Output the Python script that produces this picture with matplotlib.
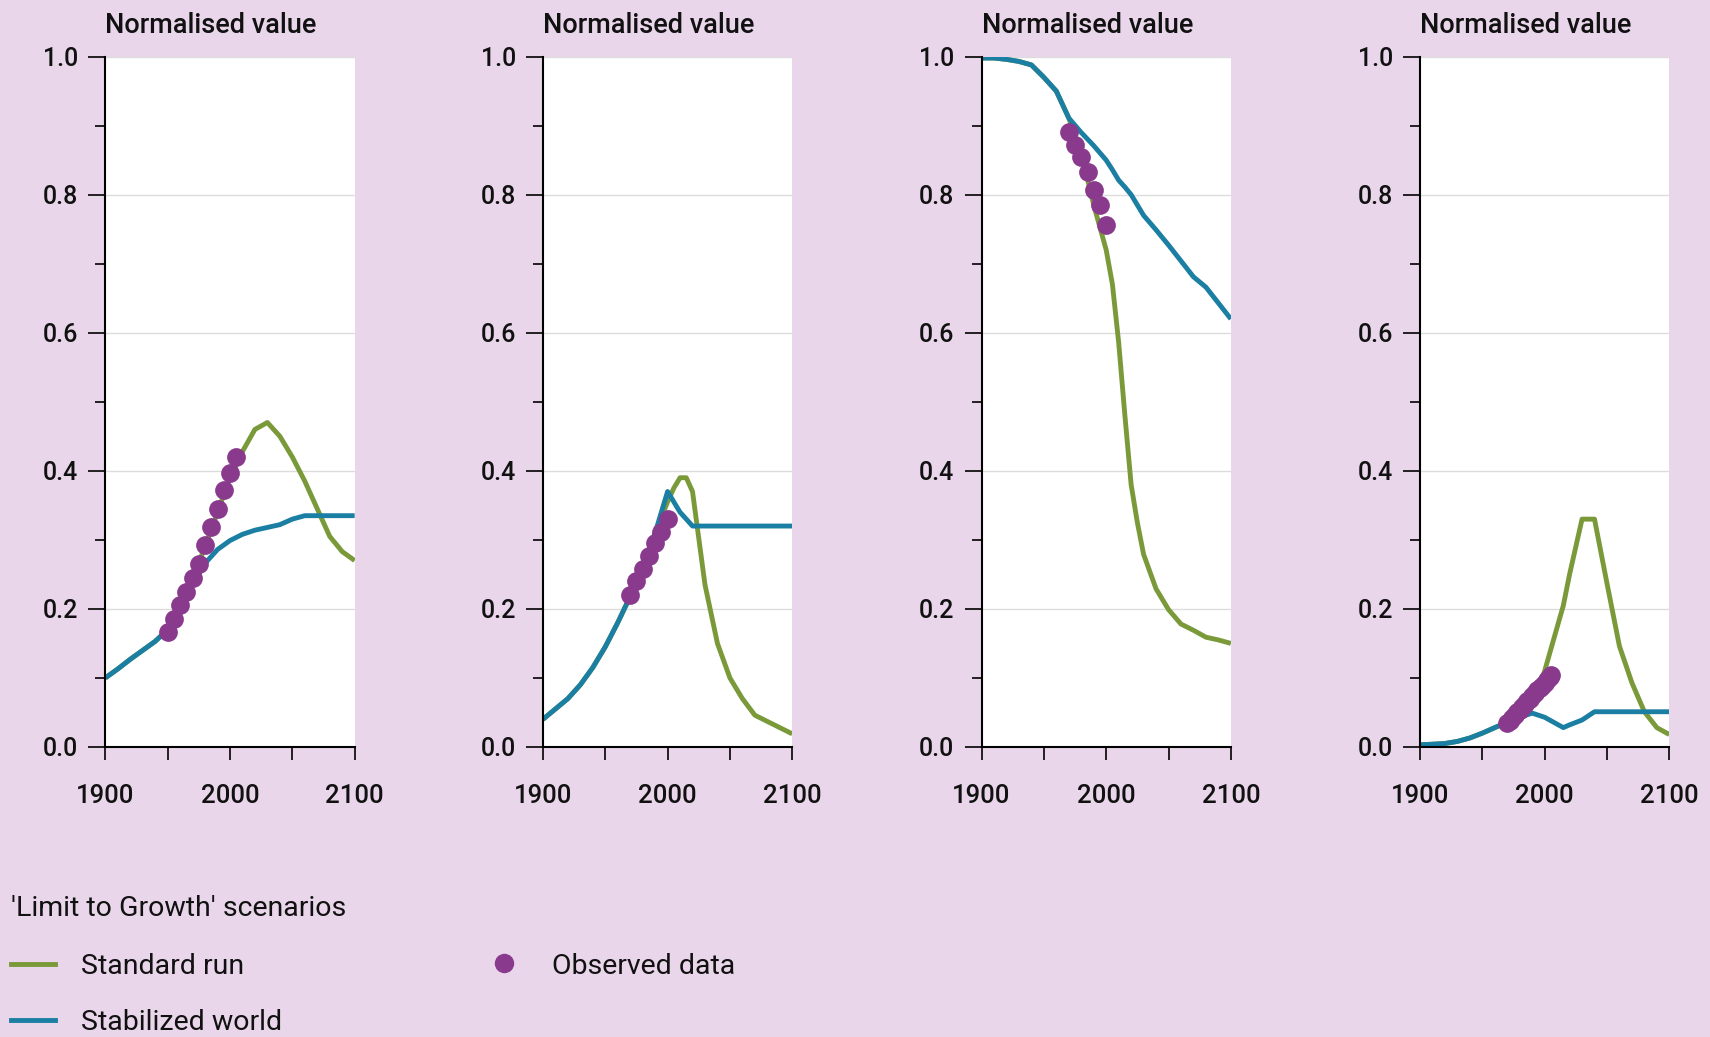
import matplotlib
matplotlib.use('Agg')
from matplotlib import pyplot as plt
from matplotlib.lines import Line2D

plt.rcParams['font.family'] = ['Roboto', 'DejaVu Sans']

# colours
BG = '#E9D6EA'
GREEN = '#7A9A3A'
BLUE = '#1A7FA2'
PURPLE = '#8A3A8D'

# ---- data ----
years = [1900, 1910, 1920, 1930, 1940, 1950, 1960, 1970, 1980, 1990, 2000,
         2010, 2020, 2030, 2040, 2050, 2060, 2070, 2080, 2090, 2100]

# panel 1
std1 = [0.100, 0.113, 0.127, 0.140, 0.153, 0.170, 0.205, 0.245, 0.290, 0.340, 0.390,
        0.428, 0.460, 0.470, 0.450, 0.420, 0.385, 0.345, 0.305, 0.283, 0.270]
stab1 = [0.100, 0.113, 0.127, 0.140, 0.153, 0.170, 0.200, 0.235, 0.266, 0.286, 0.299,
         0.308, 0.314, 0.318, 0.322, 0.330, 0.335, 0.335, 0.335, 0.335, 0.335]
obs_years1 = [1950, 1955, 1960, 1965, 1970, 1975, 1980, 1985, 1990, 1995, 2000, 2005]
obs1 = [0.167, 0.186, 0.205, 0.225, 0.245, 0.265, 0.293, 0.318, 0.345, 0.372, 0.397, 0.420]

# panel 2
years2 = [1900, 1910, 1920, 1930, 1940, 1950, 1960, 1970, 1980, 1990, 2000, 2005,
          2010, 2015, 2020, 2030, 2040, 2050, 2060, 2070, 2080, 2090, 2100]
std2 = [0.040, 0.055, 0.070, 0.090, 0.115, 0.145, 0.180, 0.218, 0.260, 0.310, 0.355, 0.375,
        0.390, 0.390, 0.370, 0.235, 0.150, 0.100, 0.070, 0.046, 0.037, 0.028, 0.019]
stab2 = [0.040, 0.055, 0.070, 0.090, 0.115, 0.145, 0.180, 0.218, 0.260, 0.310, 0.370, 0.355,
         0.340, 0.330, 0.320, 0.320, 0.320, 0.320, 0.320, 0.320, 0.320, 0.320, 0.320]
obs_years2 = [1970, 1975, 1980, 1985, 1990, 1995, 2000]
obs2 = [0.220, 0.240, 0.258, 0.277, 0.295, 0.312, 0.330]

# panel 3
years3 = [1900, 1910, 1920, 1930, 1940, 1950, 1960, 1970, 1980, 1990, 2000, 2005,
          2010, 2015, 2020, 2025, 2030, 2040, 2050, 2060, 2070, 2080, 2090, 2100]
std3 = [0.998, 0.998, 0.996, 0.993, 0.988, 0.970, 0.950, 0.911, 0.860, 0.785, 0.720, 0.670,
        0.586, 0.480, 0.380, 0.325, 0.279, 0.229, 0.199, 0.178, 0.169, 0.159, 0.155, 0.150]
stab3 = [0.998, 0.998, 0.996, 0.993, 0.988, 0.970, 0.950, 0.911, 0.890, 0.871, 0.850, 0.836,
         0.821, 0.811, 0.800, 0.785, 0.770, 0.749, 0.727, 0.704, 0.681, 0.666, 0.643, 0.620]
obs_years3 = [1970, 1975, 1980, 1985, 1990, 1995, 2000]
obs3 = [0.891, 0.872, 0.855, 0.833, 0.807, 0.785, 0.756]

# panel 4
years4 = [1900, 1910, 1920, 1930, 1940, 1950, 1960, 1970, 1980, 1990, 2000, 2015,
          2020, 2030, 2040, 2050, 2060, 2070, 2080, 2090, 2100]
std4 = [0.003, 0.004, 0.005, 0.008, 0.013, 0.020, 0.028, 0.036, 0.043, 0.065, 0.110, 0.205,
        0.250, 0.330, 0.330, 0.237, 0.146, 0.093, 0.051, 0.028, 0.018]
stab4 = [0.003, 0.004, 0.005, 0.008, 0.013, 0.020, 0.028, 0.036, 0.043, 0.049, 0.043, 0.028,
         0.032, 0.039, 0.051, 0.051, 0.051, 0.051, 0.051, 0.051, 0.051]
obs_years4 = [1970, 1972, 1974, 1976, 1978, 1980, 1982, 1984, 1986, 1988, 1990,
              1992, 1994, 1996, 1998, 2000, 2002, 2004, 2005]
obs4 = [0.035, 0.038, 0.042, 0.046, 0.050, 0.054, 0.058, 0.062, 0.066, 0.070, 0.074,
        0.078, 0.082, 0.086, 0.089, 0.093, 0.097, 0.101, 0.104]

panels = [
    (years, std1, stab1, obs_years1, obs1),
    (years2, std2, stab2, obs_years2, obs2),
    (years3, std3, stab3, obs_years3, obs3),
    (years4, std4, stab4, obs_years4, obs4),
]

y_ticks = [0.0, 0.2, 0.4, 0.6, 0.8, 1.0]
y_minor = [0.1, 0.3, 0.5, 0.7, 0.9]
x_ticks = [1900, 2000, 2100]
x_minor = [1950, 2050]

fig = plt.figure(figsize=(17.1, 10.37), dpi=100, facecolor=BG)

lefts = [0.0616, 0.3175, 0.5740, 0.8304]
for left, (yrs, std, stab, oyrs, obs) in zip(lefts, panels):
    ax = fig.add_axes([left, 0.2797, 0.1458, 0.6657])
    ax.set_facecolor('white')
    ax.plot(yrs, std, color=GREEN, lw=3.5, solid_capstyle='butt')
    ax.plot(yrs, stab, color=BLUE, lw=3.5, solid_capstyle='butt')
    ax.plot(oyrs, obs, 'o', color=PURPLE, ms=13.5, mec='none')
    ax.set_xlim(1900, 2100)
    ax.set_ylim(0, 1.0)
    ax.set_yticks(y_ticks)
    ax.set_yticklabels(['%.1f' % v for v in y_ticks], fontweight='medium')
    ax.set_yticks(y_minor, minor=True)
    ax.set_xticks(x_ticks)
    ax.set_xticklabels([str(v) for v in x_ticks], fontweight='medium')
    ax.set_xticks(x_minor, minor=True)
    ax.grid(axis='y', which='major', color='#DCDCDC', lw=1)
    ax.set_axisbelow(True)
    for s in ['top', 'right']:
        ax.spines[s].set_visible(False)
    for s in ['left', 'bottom']:
        ax.spines[s].set_linewidth(1.5)
    ax.tick_params(axis='y', which='major', length=12.5, width=1.2, pad=7, labelsize=18,
                   labelcolor='#111111')
    ax.tick_params(axis='y', which='minor', length=7, width=1.2)
    ax.tick_params(axis='x', which='major', length=9, width=1.2, pad=18, labelsize=18.5,
                   labelcolor='#111111')
    ax.tick_params(axis='x', which='minor', length=9, width=1.2)
    ax.set_title('Normalised value', loc='left', pad=17, fontsize=19.5, color='#111111',
                 fontweight='medium')

# legend
fig.text(0.0064, 0.1240, "'Limit to Growth' scenarios", fontsize=20.5, va='center', ha='left',
         color='#111111')
fig.add_artist(Line2D([0.0064, 0.0322], [0.0704, 0.0704], color=GREEN, lw=3.5,
                      transform=fig.transFigure))
fig.text(0.0474, 0.0680, 'Standard run', fontsize=20.5, va='center', ha='left', color='#111111')
fig.add_artist(Line2D([0.0064, 0.0322], [0.0164, 0.0164], color=BLUE, lw=3.5,
                      transform=fig.transFigure))
fig.text(0.0474, 0.0140, 'Stabilized world', fontsize=20.5, va='center', ha='left',
         color='#111111')
fig.add_artist(Line2D([0.2947], [0.0714], marker='o', color=PURPLE, ms=14, mec='none',
                      linestyle='none', transform=fig.transFigure))
fig.text(0.3228, 0.0680, 'Observed data', fontsize=20.5, va='center', ha='left', color='#111111')

fig.savefig('out.png', dpi=100, facecolor=BG)
